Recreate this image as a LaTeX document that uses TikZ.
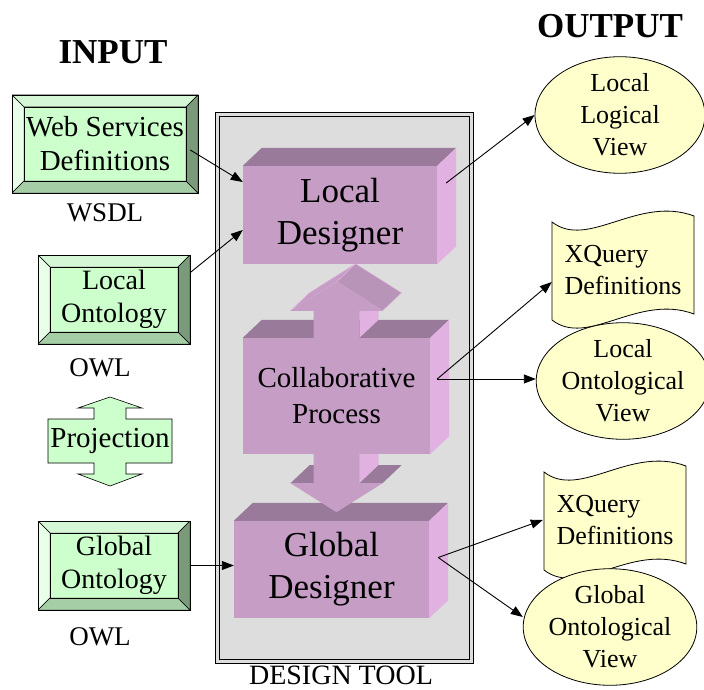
\documentclass[tikz,border=0pt]{standalone}
\usepackage{fontspec}
\setmainfont{Liberation Serif}
\usetikzlibrary{arrows.meta,shapes.geometric,calc,backgrounds,positioning}

\definecolor{facegreen}{RGB}{204,255,204}
\definecolor{bevtop}{RGB}{214,247,214}
\definecolor{bevleft}{RGB}{232,255,232}
\definecolor{bevbot}{RGB}{166,206,166}
\definecolor{bevright}{RGB}{122,154,122}
\definecolor{pfront}{RGB}{197,157,197}
\definecolor{ptop}{RGB}{154,122,154}
\definecolor{pside}{RGB}{225,177,225}
\definecolor{toolgray}{RGB}{221,221,221}
\definecolor{outyellow}{RGB}{255,255,204}

% top and side faces of a purple slab
\newcommand{\slabfaces}[1]{%
  \fill[ptop] (#1.north west) -- (#1.north east) -- ($(#1.north east)+(19,-18)$) -- ($(#1.north west)+(19,-18)$) -- cycle;
  \fill[pside] (#1.north east) -- ($(#1.north east)+(19,-18)$) -- ($(#1.south east)+(19,-18)$) -- (#1.south east) -- cycle;}

% wavy sheet behind an xquery node
\newcommand{\scrollwave}[1]{%
  \begin{scope}[on background layer, shift={(#1.center)}]
    \filldraw[fill=outyellow, draw=black, line width=0.8pt]
      (-71,-48) .. controls (-35,-20) and (15,-75) .. (71,-54)
      -- (71,44) .. controls (15,23) and (-35,78) .. (-71,50) -- cycle;
  \end{scope}}

\begin{document}
\begin{tikzpicture}[x=1pt,y=-1pt,
    bevelbox/.style={draw, fill=facegreen, inner sep=0pt, align=center, line width=0.6pt,
      font=\fontsize{28}{33}\selectfont,
      path picture={
        \coordinate (bnw) at (path picture bounding box.north west);
        \coordinate (bne) at (path picture bounding box.north east);
        \coordinate (bse) at (path picture bounding box.south east);
        \coordinate (bsw) at (path picture bounding box.south west);
        \coordinate (inw) at ([shift={(12pt,-12pt)}]bnw);
        \coordinate (ine) at ([shift={(-12pt,-12pt)}]bne);
        \coordinate (ise) at ([shift={(-12pt,12pt)}]bse);
        \coordinate (isw) at ([shift={(12pt,12pt)}]bsw);
        \filldraw[fill=bevtop, line width=0.5pt] (bnw) -- (bne) -- (ine) -- (inw) -- cycle;
        \filldraw[fill=bevleft, line width=0.5pt] (bnw) -- (inw) -- (isw) -- (bsw) -- cycle;
        \filldraw[fill=bevbot, line width=0.5pt] (bsw) -- (isw) -- (ise) -- (bse) -- cycle;
        \filldraw[fill=bevright, line width=0.5pt] (bne) -- (ine) -- (ise) -- (bse) -- cycle;
        \draw[line width=0.8pt] (inw) rectangle (ise);
      }},
    slab/.style={fill=pfront, inner sep=0pt, align=center, font=\fontsize{35}{42}\selectfont},
    outview/.style={ellipse, draw, fill=outyellow, inner sep=0pt, align=center, line width=0.8pt,
      font=\fontsize{26}{32}\selectfont},
    xquery/.style={inner sep=0pt, align=left, minimum height=96, font=\fontsize{26}{32}\selectfont},
    caption/.style={inner sep=0.5pt, font=\fontsize{27}{32}\selectfont},
    heading/.style={font=\fontsize{35}{40}\selectfont\bfseries},
    conn/.style={-{Triangle[length=12pt,width=9pt]}, line width=0.9pt}]
  \useasboundingbox (0,0) rectangle (704,690);

  % design tool frame
  \node[draw, double=toolgray, double distance=2.5pt, fill=toolgray, line width=0.8pt,
        minimum width=254, minimum height=547, inner sep=0pt] (tool) at (344.5,388) {};
  \node[caption, inner sep=0pt, font=\fontsize{28}{33}\selectfont] (toolname) at (341,675) {DESIGN TOOL};

  % headings
  \node[heading] (inhead) at (113,52) {INPUT};
  \node[heading] (outhead) at (610,26) {OUTPUT};

  % inputs
  \node[bevelbox, minimum width=186, minimum height=98, font=\fontsize{29}{34}\selectfont] (ws) at (105,144) {Web Services\\Definitions};
  \node[caption] (wsdl) at (105,213) {WSDL};
  \node[bevelbox, minimum width=152, minimum height=89] (lo) at (114,299.5) {Local\\Ontology};
  \node[caption] (owla) at (100,368) {OWL};
  \node[inner sep=0pt, font=\fontsize{29}{34}\selectfont] (proj) at (110,441) {Projection};
  \begin{scope}[on background layer, shift={(proj.center)}]
    \filldraw[fill=facegreen, line width=0.6pt] (0,-44) -- (32,-33) -- (16,-33) -- (16,-22) -- (62,-22)
      -- (62,22) -- (16,22) -- (16,33) -- (32,33) -- (0,45) -- (-32,33) -- (-16,33) -- (-16,22)
      -- (-62,22) -- (-62,-22) -- (-16,-22) -- (-16,-33) -- (-32,-33) -- cycle;
  \end{scope}
  \node[bevelbox, minimum width=152, minimum height=89] (go) at (114,565.5) {Global\\Ontology};
  \node[caption] (owlb) at (100,637) {OWL};

  % designer slabs
  \node[slab, minimum width=194, minimum height=98] (ld) at (340,215) {Local\\Designer};
  \slabfaces{ld}
  \node[slab, minimum width=187, minimum height=116, font=\fontsize{29}{36}\selectfont] (cp) at (336.5,396) {Collaborative\\Process};
  \slabfaces{cp}
  \node[slab, minimum width=195, minimum height=97] (gd) at (331.5,569.5) {Global\\Designer};
  \slabfaces{gd}

  % block arrow up
  \begin{scope}[shift={(cp.north)}]
    \fill[pside] (23,0) -- (23,-27) -- (42,-45) -- (42,-18) -- cycle;
    \filldraw[fill=pfront!94!black, draw=pside, line width=0.4pt] (0,-56) -- (46,-27) -- (65,-45) -- (19,-74) -- cycle;
    \filldraw[fill=pfront, draw=pside, line width=0.4pt] (-46,-27) -- (0,-56) -- (19,-74) -- (-27,-45) -- cycle;
    \fill[pfront] (-23,0) -- (-23,-27) -- (-46,-27) -- (0,-56) -- (46,-27) -- (23,-27) -- (23,0) -- cycle;
  \end{scope}
  % block arrow down
  \begin{scope}[shift={(cp.south)}]
    \fill[pside] (23,0) -- (23,29) -- (42,11) -- (42,0) -- cycle;
    \fill[ptop] (-46,29) -- (-23,29) -- (-4,11) -- (-27,11) -- cycle;
    \fill[ptop] (23,29) -- (46,29) -- (65,11) -- (42,11) -- cycle;
    \fill[pfront] (-23,-1) -- (-23,29) -- (-46,29) -- (0,58) -- (46,29) -- (23,29) -- (23,-1) -- cycle;
  \end{scope}

  % outputs
  \node[outview, minimum width=170, minimum height=110] (llv) at (620,115) {Local\\Logical\\View};
  \node[xquery, minimum width=142] (xqa) at (623,270) {XQuery\\Definitions};
  \scrollwave{xqa}
  \node[outview, minimum width=160, minimum height=102] (lov) at (623,381) {Local\\Ontological\\View};
  \node[xquery, minimum width=144] (xqb) at (615,520) {XQuery\\Definitions};
  \scrollwave{xqb}
  \node[outview, minimum width=170, minimum height=105] (gov) at (610,627) {Global\\Ontological\\View};

  % connectors
  \coordinate (cpout) at ([xshift=7pt,yshift=17pt]cp.east);
  \coordinate (gdout) at ([xshift=9pt,yshift=12pt]gd.east);
  \draw[conn] ([xshift=-8pt,yshift=-6pt]ws.east) -- ([yshift=33pt]ld.west);
  \draw[conn] ([yshift=27pt]lo.east) -- ([yshift=-15pt]ld.west);
  \draw[conn] (go.east) -- (go.east -| gd.west);
  \draw[conn] ([xshift=9pt,yshift=32pt]ld.east) -- (llv.west);
  \draw[conn] (cpout) -- ([yshift=-12pt]xqa.west);
  \draw[conn] (cpout) -- (cpout -| lov.west);
  \draw[conn] (gdout) -- (xqb.west);
  \draw[conn] (gdout) -- ([yshift=10pt]gov.west);
\end{tikzpicture}
\end{document}
